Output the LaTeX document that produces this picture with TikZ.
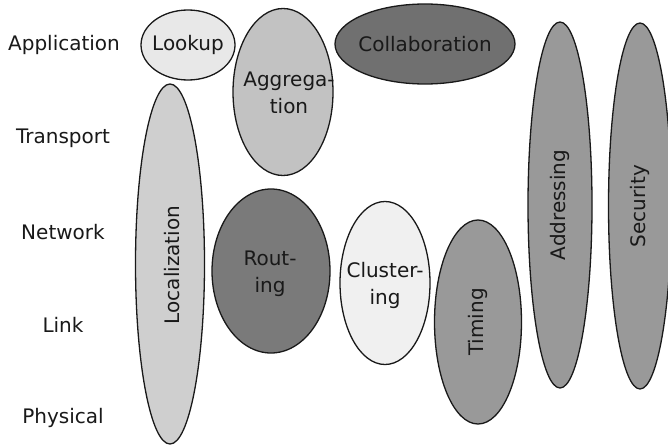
\documentclass[tikz,border=0pt]{standalone}
\usepackage{fontspec}
\setmainfont{DejaVu Sans}
\usetikzlibrary{shapes.geometric}
\begin{document}
\begin{tikzpicture}[x=1pt,y=-1pt,
  blob/.style={ellipse,draw=black!90,line width=1.3pt,inner sep=0pt},
  layer/.style={font=\fontsize{20}{27}\selectfont,text=black!90,align=center,inner sep=0pt}]
\useasboundingbox (0,0) rectangle (668,444);
\fill[white] (0,0) rectangle (668,444);
% layers
\node[layer] (app) at (64,45) {Application};
\node[layer] (tra) at (63,138) {Transport};
\node[layer] (net) at (63,232) {Network};
\node[layer] (lnk) at (63,325) {Link};
\node[layer] (phy) at (63,418) {Physical};
% blobs
\node[blob,fill=black!9,minimum width=94pt,minimum height=70pt] (lookup) at (188,45) {};
\node[layer] (lookupt) at (lookup.center) {Lookup};
\node[blob,fill=black!24,minimum width=100pt,minimum height=167pt] (aggr) at (283,92) {};
\node[layer] (aggrt) at (289,93) {Aggrega-\\tion};
\node[blob,fill=black!56,minimum width=180pt,minimum height=80pt] (collab) at (425,44) {};
\node[layer] (collabt) at (collab.center) {Collaboration};
\node[blob,fill=black!19,minimum width=69pt,minimum height=360pt] (local) at (170,264) {};
\node[layer,rotate=90] (localt) at (172,265) {Localization};
\node[blob,fill=black!52,minimum width=118pt,minimum height=164pt] (rout) at (271,271) {};
\node[layer] (routt) at (270,274) {Rout-\\ing};
\node[blob,fill=black!6,minimum width=90pt,minimum height=163pt] (clus) at (385,283) {};
\node[layer] (clust) at (385,285) {Cluster-\\ing};
\node[blob,fill=black!40,minimum width=87pt,minimum height=204pt] (timing) at (478,322) {};
\node[layer,rotate=90] (timingt) at (timing.center) {Timing};
\node[blob,fill=black!40,minimum width=64pt,minimum height=366pt] (addr) at (560,205) {};
\node[layer,rotate=90] (addrt) at (addr.center) {Addressing};
\node[blob,fill=black!40,minimum width=63pt,minimum height=366pt] (sec) at (640,206) {};
\node[layer,rotate=90] (sect) at (sec.center) {Security};
\end{tikzpicture}
\end{document}
